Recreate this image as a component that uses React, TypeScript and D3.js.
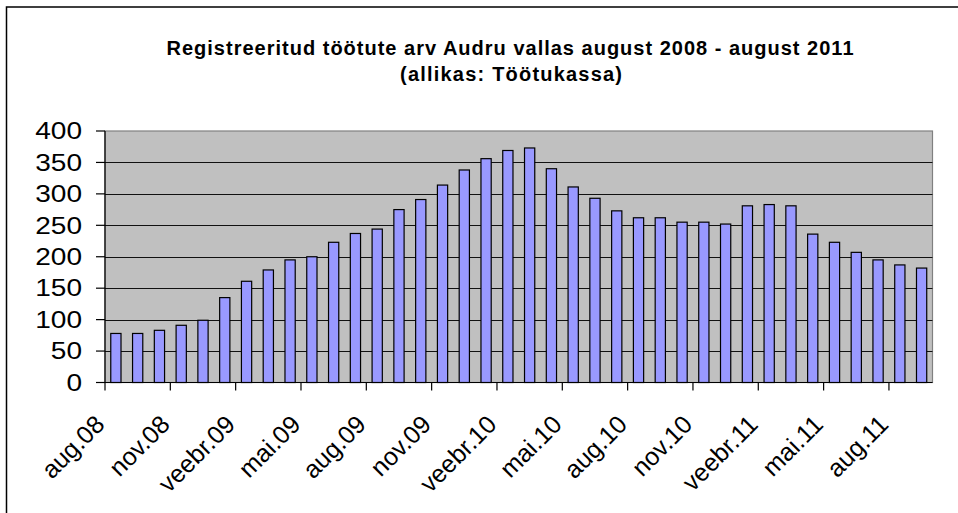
import React from "react";
import * as d3 from "d3";

const months = [
  "aug.08", "sept.08", "okt.08", "nov.08", "dets.08", "jaan.09", "veebr.09", "märts.09", "apr.09", "mai.09", "juuni.09", "juuli.09",
  "aug.09", "sept.09", "okt.09", "nov.09", "dets.09", "jaan.10", "veebr.10", "märts.10", "apr.10", "mai.10", "juuni.10", "juuli.10",
  "aug.10", "sept.10", "okt.10", "nov.10", "dets.10", "jaan.11", "veebr.11", "märts.11", "apr.11", "mai.11", "juuni.11", "juuli.11",
  "aug.11", "sept.11",
];
const unemployed = [
  78, 78, 83, 91, 99, 135, 161, 179, 195, 200, 223, 237,
  244, 275, 291, 314, 338, 356, 369, 373, 340, 311, 293, 273,
  262, 262, 255, 255, 252, 281, 283, 281, 236, 223, 207, 195,
  187, 182,
];
const yTicks = [0, 50, 100, 150, 200, 250, 300, 350, 400];
const titleLines = ["Registreeritud töötute arv Audru vallas august 2008 - august 2011", "(allikas: Töötukassa)"];

const W = 958, H = 513;
const plot = { left: 105, right: 932.5, top: 131, bottom: 382.5 };
const FONT = "'Liberation Sans', Arial, Helvetica, sans-serif";

export default function App() {
  const x = d3.scaleBand<string>().domain(months).range([plot.left, plot.right]).padding(0);
  const y = d3.scaleLinear().domain([0, 400]).range([plot.bottom, plot.top]);
  const bw = x.bandwidth();
  const barW = bw * 0.47;
  const labelIdx = months.map((_, i) => i).filter((i) => i % 3 === 0);

  return (
    <svg width={W} height={H} style={{ position: "absolute", left: 0, top: 0, background: "#fff" }} fontFamily={FONT}>
      <rect x={0} y={0} width={W} height={H} fill="#fff" />
      <path d={`M6.5,${H + 10} V7 H${W + 10}`} fill="none" stroke="#000" strokeWidth={1.5} />
      <text x={510} y={55} textAnchor="middle" fontWeight="bold" fontSize={20} textLength={687} lengthAdjust="spacing">
        {titleLines[0]}
      </text>
      <text x={511} y={81} textAnchor="middle" fontWeight="bold" fontSize={20} textLength={222} lengthAdjust="spacing">
        {titleLines[1]}
      </text>

      <rect x={plot.left} y={plot.top} width={plot.right - plot.left} height={plot.bottom - plot.top} fill="#C0C0C0" stroke="#808080" strokeWidth={1.2} />
      {yTicks.filter((t) => t > 0 && t < 400).map((t) => (
        <line key={t} x1={plot.left} x2={plot.right} y1={Math.round(y(t)) + 0.5} y2={Math.round(y(t)) + 0.5} stroke="#111" strokeWidth={1} />
      ))}

      {unemployed.map((v, i) => {
        const cx = (x(months[i]) as number) + bw / 2;
        return (
          <rect key={i} x={cx - barW / 2} y={y(v)} width={barW} height={y(0) - y(v)} fill="#9999FF" stroke="#000" strokeWidth={1.2} />
        );
      })}

      <line x1={plot.left} x2={plot.left} y1={plot.top} y2={plot.bottom} stroke="#000" strokeWidth={1.2} />
      <line x1={plot.left} x2={plot.right} y1={plot.bottom} y2={plot.bottom} stroke="#000" strokeWidth={1.2} />

      {yTicks.map((t) => (
        <g key={t}>
          <line x1={96} x2={plot.left} y1={y(t)} y2={y(t)} stroke="#000" strokeWidth={1.2} />
          <text transform={`translate(82,${y(t)}) scale(1.22,1)`} dy="0.36em" textAnchor="end" fontSize={23}>{t}</text>
        </g>
      ))}

      {labelIdx.map((i) => {
        const tx = x(months[i]) as number;
        return (
          <g key={i}>
            <line x1={tx} x2={tx} y1={plot.bottom} y2={plot.bottom + 8} stroke="#000" strokeWidth={1.2} />
            <text transform={`translate(${tx + 1},${426}) rotate(-45)`} textAnchor="end" fontSize={25}>{months[i]}</text>
          </g>
        );
      })}
    </svg>
  );
}
